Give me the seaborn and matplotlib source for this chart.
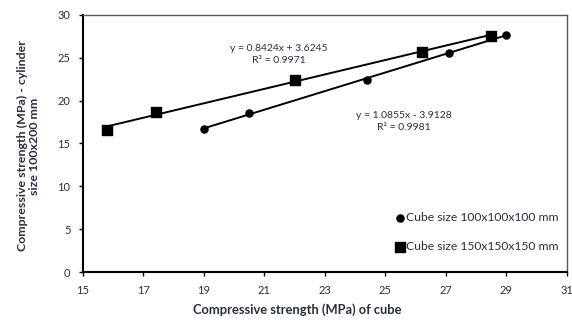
import numpy as np
import pandas as pd
import matplotlib
matplotlib.use('Agg')
import matplotlib.pyplot as plt
import seaborn as sns

# cube 100x100x100 mm vs cylinder strength
cube100_x = [19.0, 20.5, 24.4, 27.1, 29.0]
cube100_y = [16.7, 18.6, 22.4, 25.6, 27.7]

# cube 150x150x150 mm vs cylinder strength
cube150_x = [15.8, 17.4, 22.0, 26.2, 28.5]
cube150_y = [16.6, 18.7, 22.4, 25.7, 27.6]

xticks = [15, 17, 19, 21, 23, 25, 27, 29, 31]
yticks = [0, 5, 10, 15, 20, 25, 30]

txt = '#2a2f40'

sns.set_style('white')
plt.rcParams['font.family'] = ['Lato', 'DejaVu Sans']

fig = plt.figure(figsize=(5.72, 3.25), dpi=100)
ax = fig.add_axes([0.145, 0.163, 0.846, 0.791])

df100 = pd.DataFrame({'x': cube100_x, 'y': cube100_y})
df150 = pd.DataFrame({'x': cube150_x, 'y': cube150_y})

sns.regplot(data=df100, x='x', y='y', ax=ax, ci=None, truncate=True,
            marker='o', color='black', label='Cube size 100x100x100 mm',
            scatter_kws={'s': 26, 'zorder': 3, 'edgecolors': 'black', 'alpha': 1},
            line_kws={'lw': 1.4, 'color': 'black'})
sns.regplot(data=df150, x='x', y='y', ax=ax, ci=None, truncate=True,
            marker='s', color='black', label='Cube size 150x150x150 mm',
            scatter_kws={'s': 48, 'zorder': 3, 'edgecolors': 'black', 'alpha': 1},
            line_kws={'lw': 1.4, 'color': 'black'})

ax.set_xlim(15, 31)
ax.set_ylim(0, 30)
ax.set_xticks(xticks)
ax.set_yticks(yticks)
ax.tick_params(axis='both', labelsize=8, labelcolor=txt, color='black',
               length=3, width=1, direction='out', bottom=True, left=True, pad=6)

for s in ['left', 'bottom']:
    ax.spines[s].set_color('black')
    ax.spines[s].set_linewidth(1.5)
for s in ['top', 'right']:
    ax.spines[s].set_color('#555555')
    ax.spines[s].set_linewidth(1.0)

ax.set_xlabel('Compressive strength (MPa) of cube', fontsize=9.3,
              fontweight='bold', color=txt)
ax.xaxis.set_label_coords(0.442, -0.122)
ax.set_ylabel('Compressive strength (MPa) - cylinder\nsize 100x200 mm',
              fontsize=8.9, fontweight='bold', color=txt, linespacing=1.15)
ax.yaxis.set_label_coords(-0.088, 0.49)

ax.text(21.48, 25.4, 'y = 0.8424x + 3.6245\nR² = 0.9971', fontsize=7.5,
        color=txt, ha='center', va='center', linespacing=1.5)
ax.text(25.6, 17.56, 'y = 1.0855x - 3.9128\nR² = 0.9981', fontsize=7.5,
        color=txt, ha='center', va='center', linespacing=1.5)

leg = ax.legend(loc='lower right', bbox_to_anchor=(1.0, 0.045), frameon=False,
                fontsize=8.7, handletextpad=0.0, labelspacing=1.45,
                handlelength=1.0, borderaxespad=0.3)
for t in leg.get_texts():
    t.set_color(txt)

fig.savefig('out.png', dpi=100)
